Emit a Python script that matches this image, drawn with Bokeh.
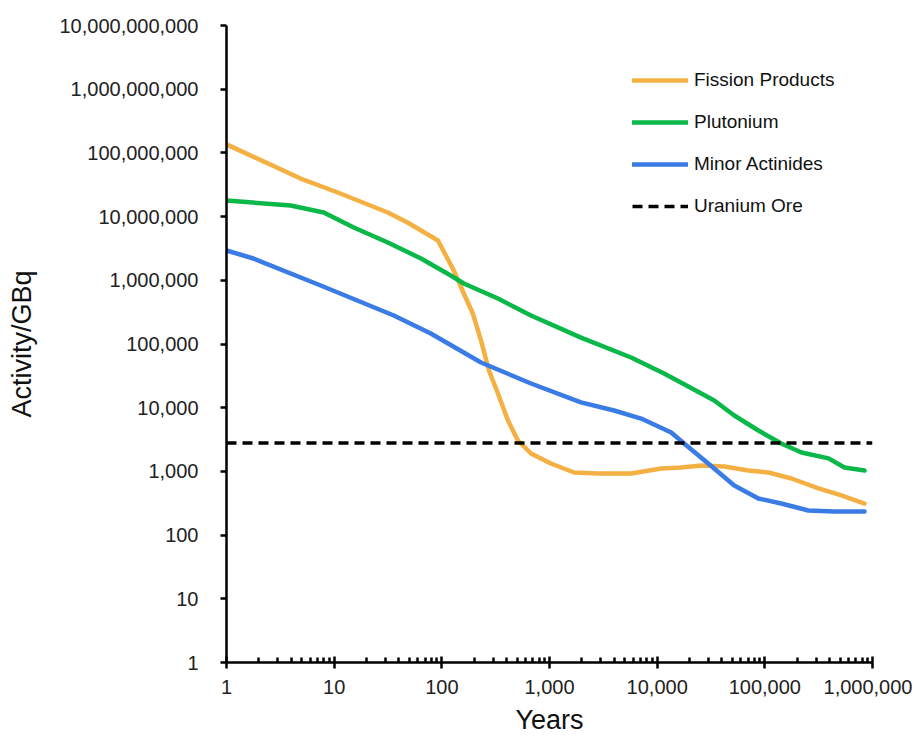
from bokeh.plotting import figure
from bokeh.models import Range1d, FixedTicker, NumeralTickFormatter, Legend, LegendItem
from bokeh.embed import file_html
from bokeh.resources import INLINE

# ---- data ----
fp_years = [1, 4.88, 10.8, 31.5, 48, 92, 109, 129, 160, 194, 231, 274, 332, 411, 509, 673,
            1030, 1690, 2830, 5730, 10900, 16700, 25700, 42000, 70300, 108000, 177000,
            315000, 515000, 843000]
fp_act = [1.36e8, 3.96e7, 2.39e7, 1.16e7, 8.07e6, 4.22e6, 2.45e6, 1.43e6, 6.21e5, 3.01e5,
          1.14e5, 3.84e4, 1.67e4, 6300, 3055, 1910, 1330, 961, 927, 927, 1110, 1150, 1240,
          1190, 1030, 961, 774, 540, 419, 313]

pu_years = [1, 3.94, 8, 15.2, 31.5, 64, 121, 160, 332, 673, 1960, 5730, 11600, 25700,
            33900, 52000, 87100, 142000, 219000, 390000, 550000, 843000]
pu_act = [1.79e7, 1.49e7, 1.16e7, 6.75e6, 3.92e6, 2.20e6, 1.19e6, 8.91e5, 5.18e5, 2.80e5,
          1.26e5, 6.14e4, 3.45e4, 1.67e4, 1.30e4, 7550, 4390, 2740, 1980, 1600, 1150, 1030]

ma_years = [1, 1.78, 7.5, 35.8, 79, 231, 673, 1960, 3980, 7100, 13500, 17800, 29800,
            52000, 87100, 142000, 254000, 443000, 843000]
ma_act = [2.94e6, 2.20e6, 8.28e5, 2.80e5, 1.46e5, 5.13e4, 2.40e4, 1.21e4, 9040, 6760,
          4080, 2740, 1330, 601, 376, 313, 243, 235, 235]

ore_years = [1, 1000000]
ore_act = [2800, 2800]

x_ticks = [1, 10, 100, 1000, 10000, 100000, 1000000]
y_ticks = [1, 10, 100, 1000, 10000, 100000, 1000000, 10000000, 100000000,
           1000000000, 10000000000]
x_minor = [m * d for d in x_ticks[:-1] for m in range(2, 10)]

FONT = "Liberation Sans"

p = figure(width=912, height=741, x_axis_type="log", y_axis_type="log",
           x_range=Range1d(1, 1000000), y_range=Range1d(1, 1e10),
           output_backend="svg", toolbar_location=None,
           min_border_left=226, min_border_right=40, min_border_top=25, min_border_bottom=79)
p.outline_line_color = None
p.xgrid.visible = False
p.ygrid.visible = False
p.background_fill_color = "white"
p.border_fill_color = "white"

W = 4.5
r_fp = p.line(fp_years, fp_act, line_color="#F4B043", line_width=W, line_cap="round", line_join="round")
r_pu = p.line(pu_years, pu_act, line_color="#0AB84A", line_width=W, line_cap="round", line_join="round")
r_ma = p.line(ma_years, ma_act, line_color="#3A7BE6", line_width=W, line_cap="round", line_join="round")
r_ore = p.line(ore_years, ore_act, line_color="black", line_width=3.5, line_dash="10 6")

# axes
xa = p.xaxis[0]
xa.ticker = FixedTicker(ticks=x_ticks, minor_ticks=x_minor)
xa.formatter = NumeralTickFormatter(format="0,0")
xa.axis_line_width = 2.5
xa.axis_line_color = "black"
xa.major_tick_line_width = 2.5
xa.major_tick_in = 6
xa.major_tick_out = 6
xa.minor_tick_line_width = 2.5
xa.minor_tick_in = 5
xa.minor_tick_out = 0
xa.major_label_text_font = FONT
xa.major_label_text_font_size = "20px"
xa.major_label_text_color = "#222222"
xa.major_label_standoff = 11
xa.axis_label = "Years"
xa.axis_label_text_font = FONT
xa.axis_label_text_font_size = "27px"
xa.axis_label_text_font_style = "normal"
xa.axis_label_text_color = "#111111"
xa.axis_label_standoff = 8

ya = p.yaxis[0]
ya.ticker = FixedTicker(ticks=y_ticks, minor_ticks=[])
ya.formatter = NumeralTickFormatter(format="0,0")
ya.axis_line_width = 2.5
ya.axis_line_color = "black"
ya.major_tick_line_width = 2.5
ya.major_tick_in = 0
ya.major_tick_out = 6
ya.minor_tick_line_color = None
ya.major_label_text_font = FONT
ya.major_label_text_font_size = "20px"
ya.major_label_text_color = "#222222"
ya.major_label_standoff = 22
ya.axis_label = "Activity/GBq"
ya.axis_label_text_font = FONT
ya.axis_label_text_font_size = "27px"
ya.axis_label_text_font_style = "normal"
ya.axis_label_text_color = "#111111"
ya.axis_label_standoff = 19

legend = Legend(items=[
    LegendItem(label="Fission Products", renderers=[r_fp]),
    LegendItem(label="Plutonium", renderers=[r_pu]),
    LegendItem(label="Minor Actinides", renderers=[r_ma]),
    LegendItem(label="Uranium Ore", renderers=[r_ore]),
], location=(406, 445))
legend.border_line_color = None
legend.background_fill_alpha = 0
legend.label_text_font = FONT
legend.label_text_font_size = "19px"
legend.label_text_color = "#111111"
legend.glyph_width = 56
legend.glyph_height = 20
legend.label_standoff = 6
legend.spacing = 20
legend.padding = 0
legend.margin = 0
p.add_layout(legend)

open("out.html", "w").write(file_html(p, INLINE))
